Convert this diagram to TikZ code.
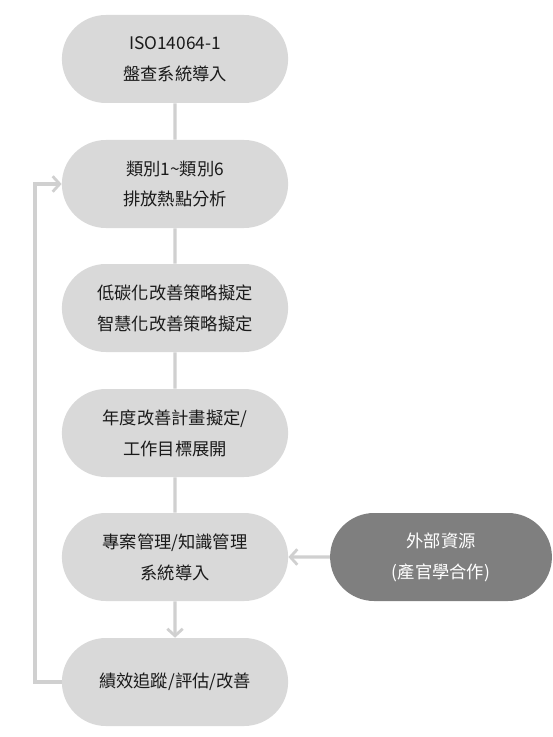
\documentclass[tikz,border=0pt]{standalone}
\usepackage{fontspec}
\setmainfont{Noto Sans CJK TC}
\usepackage{xcolor}
\usetikzlibrary{shapes.misc,arrows.meta}
\definecolor{boxgray}{HTML}{D9D9D9}
\definecolor{darkgray}{HTML}{7F7F7F}
\definecolor{linegray}{HTML}{D0D0D0}
\definecolor{textgray}{HTML}{1A1A1A}
\tikzstyle{step box} = [rounded rectangle, fill=boxgray, minimum width=5.89cm, minimum height=2.2cm, text=textgray, align=center, font=\fontsize{12.3pt}{22pt}\selectfont]
\tikzstyle{dark box} = [step box, fill=darkgray, minimum width=5.78cm, text=white]
\tikzstyle{line} = [line width=2.2pt, draw=linegray, -]
\tikzstyle{arrow} = [line width=2.2pt, draw=linegray, -{Straight Barb[length=5pt,width=11pt,line width=2pt]}]

\begin{document}
\begin{tikzpicture}
        \useasboundingbox (0,0) rectangle (13.8,-18.425);

        % Steps
        \node[step box] (iso) at (4.375,-1.475) {ISO14064-1\\盤查系統導入};
        \node[step box] (hotspot) at (4.375,-4.6) {類別1\textasciitilde 類別6\\排放熱點分析};
        \node[step box] (strategy) at (4.375,-7.7) {低碳化改善策略擬定\\智慧化改善策略擬定};
        \node[step box] (plan) at (4.375,-10.825) {年度改善計畫擬定/\\工作目標展開};
        \node[step box] (system) at (4.375,-13.925) {專案管理/知識管理\\系統導入};
        \node[step box] (track) at (4.375,-17.05) {績效追蹤/評估/改善};
        \node[dark box] (extern) at (11.025,-13.925) {外部資源\\(產官學合作)};

        % Draw Arrows
        \draw[line] (iso) -- (hotspot);
        \draw[line] (hotspot) -- (strategy);
        \draw[line] (strategy) -- (plan);
        \draw[line] (plan) -- (system);
        \draw[arrow] (system) -- (track);
        \draw[arrow] (extern) -- (system);

        \coordinate (loop) at (0.875,0);
        \draw[arrow] (track.west) -| (loop |- track.west) |- (hotspot.west);

    \end{tikzpicture}
\end{document}
